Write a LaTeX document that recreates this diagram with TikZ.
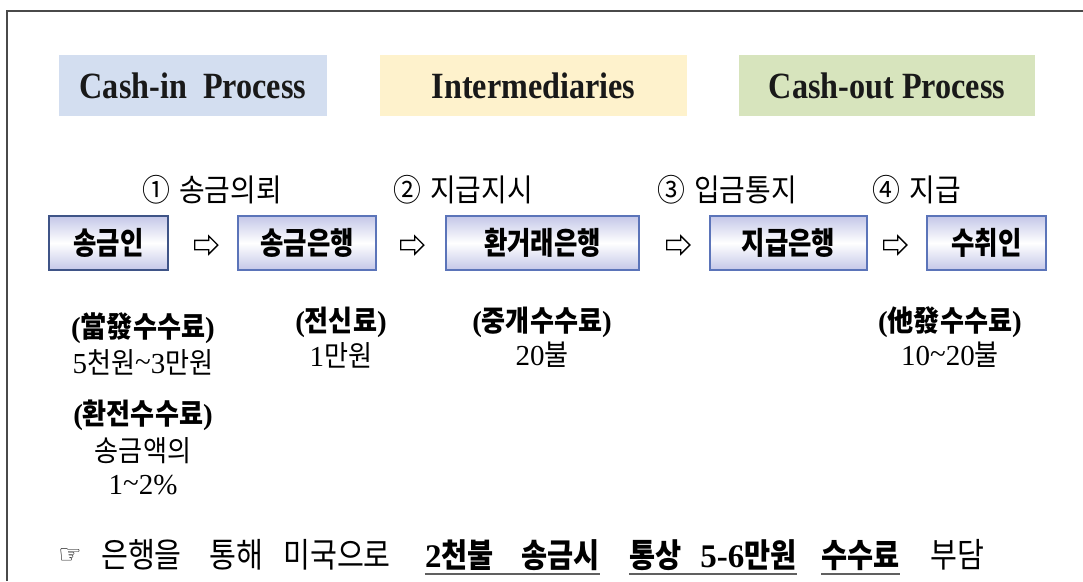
\documentclass[tikz,border=0pt]{standalone}
\usepackage{fontspec}
\setmainfont{Liberation Serif}
\newfontfamily\kr{Noto Sans CJK KR}[FakeStretch=0.9]
\newfontfamily\krc{Noto Sans CJK KR}[FakeStretch=0.82]
\newfontfamily\krn{Noto Sans CJK KR}[FakeStretch=0.86]
\newfontfamily\hdr{Liberation Serif}[FakeStretch=0.87]
\newfontfamily\sym{DejaVu Sans}
\newcommand\kor[1]{{\kr #1}}
\newcommand\korb[1]{{\kr\bfseries #1}}
\usetikzlibrary{shapes.arrows}
\definecolor{cin}{HTML}{D3DEF0}
\definecolor{midc}{HTML}{FEF2CC}
\definecolor{cout}{HTML}{D7E4BD}
\definecolor{boxshade}{HTML}{C4C7E8}
\definecolor{boxline}{HTML}{5B74B9}
\definecolor{boxdark}{HTML}{3F5487}
\definecolor{framec}{HTML}{4A4A4A}
\definecolor{ulgray}{HTML}{606060}
\begin{document}
\begin{tikzpicture}[x=1pt,y=-1pt,
 hdrbox/.style={fill=#1, inner sep=0, minimum height=61pt, font=\hdr\bfseries\fontsize{37}{40}\selectfont, text=black!90},
 actor/.style={draw=boxline, line width=2pt, top color=boxshade, bottom color=boxshade, middle color=white, minimum height=54pt, inner sep=0, font=\krc\bfseries\fontsize{31}{33}\selectfont},
 steplbl/.style={font=\kr\fontsize{31}{34}\selectfont, inner sep=0},
 fee/.style={font=\fontsize{29}{32}\selectfont, inner sep=0},
 flowarr/.style={single arrow, draw=black, fill=white, line width=1.3pt, minimum height=23pt, single arrow head extend=4.5pt, inner sep=4pt},
 note/.style={font=\krn\fontsize{34}{36}\selectfont, inner sep=0, anchor=base},
 noteb/.style={font=\krn\bfseries\fontsize{33}{36}\selectfont, inner sep=0, anchor=base},
 ul/.style={draw=ulgray, line width=2pt}
]
\useasboundingbox (0,0) rectangle (1083,581);
\fill[white] (0,0) rectangle (1083,581);
\draw[framec, line width=2pt] (7,581) -- (7,11) -- (1083,11);

% header boxes
\node[hdrbox=cin, minimum width=268pt] (h1) at (193,85.5) {Cash-in\ \ Process};
\node[hdrbox=midc, minimum width=307pt] (h2) at (533.5,85.5) {Intermediaries};
\node[hdrbox=cout, minimum width=296pt] (h3) at (887,85.5) {Cash-out Process};

% step labels
\node[steplbl] (s1) at (212,190) {①\hspace{9pt}송금의뢰};
\node[steplbl] (s2) at (463,190) {②\hspace{9pt}지급지시};
\node[steplbl] (s3) at (727,190) {③\hspace{9pt}입금통지};
\node[steplbl] (s4) at (917,190) {④\hspace{9pt}지급};

% actor boxes
\node[actor, draw=boxdark, minimum width=119pt] (b1) at (108.5,243) {송금인};
\node[actor, minimum width=138pt] (b2) at (307,243) {송금은행};
\node[actor, minimum width=193pt] (b3) at (542.5,243) {환거래은행};
\node[actor, minimum width=157pt] (b4) at (788.5,243) {지급은행};
\node[actor, minimum width=119pt] (b5) at (986.5,243) {수취인};

% flow arrows
\node[flowarr] (a1) at (204,245) {};
\node[flowarr] (a2) at (410,245) {};
\node[flowarr] (a3) at (676,245) {};
\node[flowarr] (a4) at (893,245) {};

% fees
\node[fee] (f1a) at (143,328) {{\bfseries(}\korb{當發수수료}{\bfseries)}};
\node[fee] (f1b) at (143,362) {5\kor{천원}\raisebox{2pt}{\textasciitilde}3\kor{만원}};
\node[fee] (f2a) at (143,415) {{\bfseries(}\korb{환전수수료}{\bfseries)}};
\node[fee] (f2b) at (143,451) {\kor{송금액의}};
\node[fee] (f2c) at (143,485) {1\raisebox{2pt}{\textasciitilde}2\%};
\node[fee] (f3a) at (341,322) {{\bfseries(}\korb{전신료}{\bfseries)}};
\node[fee] (f3b) at (341,355) {1\kor{만원}};
\node[fee] (f4a) at (542,322) {{\bfseries(}\korb{중개수수료}{\bfseries)}};
\node[fee] (f4b) at (542,355) {20\kor{불}};
\node[fee] (f5a) at (950,322) {{\bfseries(}\korb{他發수수료}{\bfseries)}};
\node[fee] (f5b) at (950,355) {10\raisebox{2pt}{\textasciitilde}20\kor{불}};

% bottom note
\node[note, font=\sym\fontsize{26}{30}\selectfont] (w0) at (70,563) {☞};
\node[note] (w1) at (141.5,567) {은행을};
\node[note] (w2) at (236.5,567) {통해};
\node[note] (w3) at (337,567) {미국으로};
\node[noteb] (w4) at (459.5,567) {{\rmfamily\bfseries 2}천불};
\node[noteb] (w5) at (560.5,567) {송금시};
\node[noteb] (w6) at (655.5,567) {통상};
\node[noteb] (w7) at (748.5,567) {{\rmfamily\bfseries 5-6}만원};
\node[noteb] (w8) at (860.5,567) {수수료};
\node[note] (w9) at (957.5,567) {부담};
\draw[ul] ([yshift=-7pt]w4.base west) -- ([yshift=-7pt]w5.base east);
\draw[ul] ([yshift=-7pt]w6.base west) -- ([yshift=-7pt]w7.base east);
\draw[ul] ([yshift=-7pt]w8.base west) -- ([yshift=-7pt]w8.base east);
\end{tikzpicture}
\end{document}
